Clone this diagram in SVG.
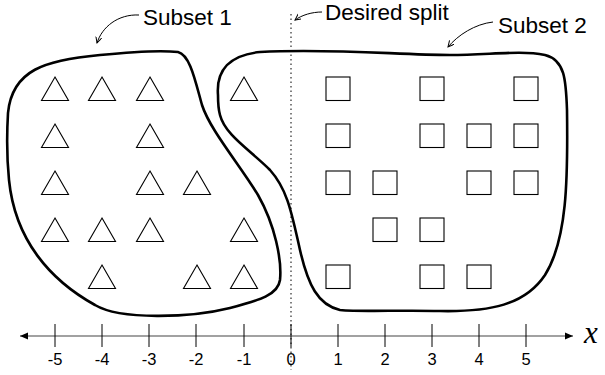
<svg xmlns="http://www.w3.org/2000/svg" width="605" height="375" viewBox="0 0 605 375">
<style>
.blob{fill:none;stroke:#000;stroke-width:2.6;stroke-linejoin:round}
.tri{fill:#fff;stroke:#000;stroke-width:1.1;stroke-linejoin:miter}
.sq{fill:#fff;stroke:#000;stroke-width:1.1}
.lbl{font-family:"Liberation Sans",Arial,Helvetica,sans-serif;font-size:22.5px;fill:#000}
.num{font-family:"Liberation Sans",Arial,Helvetica,sans-serif;font-size:16.5px;fill:#000;text-anchor:middle}
.lead{fill:none;stroke:#000;stroke-width:1}
.tick{stroke:#000;stroke-width:1}
</style>
<defs>
<marker id="ah" markerWidth="8" markerHeight="8" refX="6" refY="3" orient="auto" markerUnits="userSpaceOnUse">
<path d="M0,0 L6,3 L0,6" fill="none" stroke="#000" stroke-width="1"/>
</marker>
<marker id="axh" markerWidth="10" markerHeight="8" refX="8" refY="4" orient="auto-start-reverse" markerUnits="userSpaceOnUse">
<path d="M0,0.5 L8,4 L0,7.5 Z" fill="#000"/>
</marker>
<path id="t" d="M0,0 L13.5,23.5 L-13.5,23.5 Z"/>
<rect id="s" x="-12" y="0" width="24" height="23.5"/>
</defs>

<g id="split-line">
<line x1="291" y1="14" x2="291" y2="370" stroke="#555" stroke-width="1.5" stroke-dasharray="1.5 3"/>
</g>

<g id="subset1">
<path class="blob" d="M8,113 C12,70 45,60 100,55 C130,52 160,50 178,52 C190,55 195,80 202,105 C210,130 240,165 258,195 C275,225 282,260 280,280 C278,295 260,300 230,308 C190,318 120,320 95,305 C50,280 15,240 9,180 C6,150 7,130 8,113 Z"/>
</g>
<g id="subset2">
<path class="blob" d="M218,95 C216,70 230,55 260,52 C330,48 400,55 450,55 C490,55 520,50 545,55 C565,60 566,80 567,110 C568,180 567,240 545,275 C525,305 490,312 440,311 C400,310 360,312 340,310 C318,305 308,285 300,250 C292,215 288,190 270,170 C250,150 225,135 220,115 C218,108 218,100 218,95 Z"/>
</g>

<g id="triangles">
<use href="#t" class="tri" x="55" y="77"/>
<use href="#t" class="tri" x="102" y="77"/>
<use href="#t" class="tri" x="150" y="77"/>
<use href="#t" class="tri" x="244" y="77"/>
<use href="#t" class="tri" x="55" y="124"/>
<use href="#t" class="tri" x="150" y="124"/>
<use href="#t" class="tri" x="55" y="171"/>
<use href="#t" class="tri" x="150" y="171"/>
<use href="#t" class="tri" x="197" y="171"/>
<use href="#t" class="tri" x="55" y="218"/>
<use href="#t" class="tri" x="102" y="218"/>
<use href="#t" class="tri" x="150" y="218"/>
<use href="#t" class="tri" x="244" y="218"/>
<use href="#t" class="tri" x="102" y="265"/>
<use href="#t" class="tri" x="197" y="265"/>
<use href="#t" class="tri" x="244" y="265"/>
</g>

<g id="squares">
<use href="#s" class="sq" x="338" y="77"/>
<use href="#s" class="sq" x="432" y="77"/>
<use href="#s" class="sq" x="526" y="77"/>
<use href="#s" class="sq" x="338" y="124"/>
<use href="#s" class="sq" x="432" y="124"/>
<use href="#s" class="sq" x="479" y="124"/>
<use href="#s" class="sq" x="526" y="124"/>
<use href="#s" class="sq" x="338" y="171"/>
<use href="#s" class="sq" x="385" y="171"/>
<use href="#s" class="sq" x="479" y="171"/>
<use href="#s" class="sq" x="526" y="171"/>
<use href="#s" class="sq" x="385" y="218"/>
<use href="#s" class="sq" x="432" y="218"/>
<use href="#s" class="sq" x="338" y="265"/>
<use href="#s" class="sq" x="432" y="265"/>
<use href="#s" class="sq" x="479" y="265"/>
</g>

<g id="connectors">
<path class="lead" d="M139,15 C118,14 102,27 97,43" marker-end="url(#ah)"/>
<path class="lead" d="M322,12 C312,12 302,15 295,20" marker-end="url(#ah)"/>
<path class="lead" d="M493,22 C475,24 458,35 448,47" marker-end="url(#ah)"/>
</g>

<g id="labels">
<text class="lbl" x="143" y="25">Subset 1</text>
<text class="lbl" x="325" y="20">Desired split</text>
<text class="lbl" x="498" y="33">Subset 2</text>
</g>

<g id="axis">
<line x1="20" y1="336" x2="573" y2="336" stroke="#444" stroke-width="1.2" marker-start="url(#axh)" marker-end="url(#axh)"/>
<g class="tick">
<line x1="55" y1="324" x2="55" y2="347"/>
<line x1="102" y1="324" x2="102" y2="347"/>
<line x1="149" y1="324" x2="149" y2="347"/>
<line x1="196" y1="324" x2="196" y2="347"/>
<line x1="244" y1="324" x2="244" y2="347"/>
<line x1="291" y1="324" x2="291" y2="347"/>
<line x1="338" y1="324" x2="338" y2="347"/>
<line x1="385" y1="324" x2="385" y2="347"/>
<line x1="432" y1="324" x2="432" y2="347"/>
<line x1="479" y1="324" x2="479" y2="347"/>
<line x1="526" y1="324" x2="526" y2="347"/>
</g>
<text class="num" x="55" y="365">-5</text>
<text class="num" x="102" y="365">-4</text>
<text class="num" x="149" y="365">-3</text>
<text class="num" x="196" y="365">-2</text>
<text class="num" x="244" y="365">-1</text>
<text class="num" x="291" y="365">0</text>
<text class="num" x="338" y="365">1</text>
<text class="num" x="385" y="365">2</text>
<text class="num" x="432" y="365">3</text>
<text class="num" x="479" y="365">4</text>
<text class="num" x="526" y="365">5</text>
<text x="584" y="343" font-family="'Liberation Serif','Times New Roman',serif" font-style="italic" font-size="31">x</text>
</g>
</svg>
